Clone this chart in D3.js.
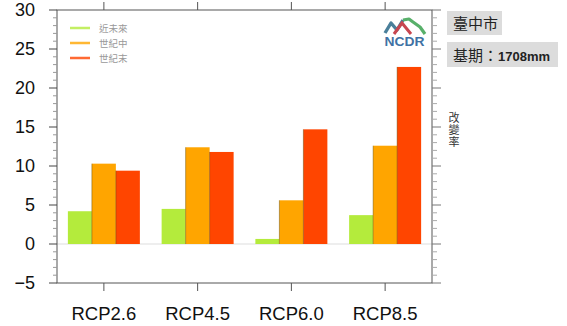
<!DOCTYPE html>
<html><head><meta charset="utf-8">
<script src="https://cdn.jsdelivr.net/npm/d3@7"></script>
<style>
body{margin:0;background:#fff;}
svg{display:block;}
</style></head>
<body>
<svg id="c" width="567" height="326"></svg>
<script>
const categories = ["RCP2.6","RCP4.5","RCP6.0","RCP8.5"];
const seriesNames = ["近未來","世紀中","世紀末"];
const nearFuture = [4.2, 4.5, 0.65, 3.7];
const midCentury = [10.3, 12.4, 5.6, 12.6];
const endCentury = [9.4, 11.8, 14.7, 22.7];
const yTicks = [-5,0,5,10,15,20,25,30];
const colors = ["#b4eb3c","#ffa500","#ff4500"];
const cityLabel = "臺中市";
const baseLabel = "基期：";
const baseValue = "1708mm";
const yTitle = "改變率";

const series = [nearFuture, midCentury, endCentury];
const svg = d3.select("#c");
const L=57, R=432, T=10, B=283;
const x = d3.scaleBand().domain(categories).range([L,R]).paddingInner(0).paddingOuter(0);
const y = d3.scaleLinear().domain([-5,30]).range([B,T]);
const bw = 24;
const sub = d3.scaleBand().domain(d3.range(3)).range([0, bw*3]);

// zero line
svg.append("line").attr("x1",L).attr("x2",R).attr("y1",y(0)).attr("y2",y(0))
  .attr("stroke","#e8e8e8").attr("stroke-width",1.5);

// bars
const g = svg.append("g");
categories.forEach((c,i)=>{
  series.forEach((s,j)=>{
    const v = s[i];
    const x0 = x(c) + x.bandwidth()/2 - bw*1.5 + sub(j);
    g.append("rect").attr("x",x0).attr("width",sub.bandwidth())
      .attr("y",y(Math.max(0,v))).attr("height",Math.abs(y(v)-y(0)))
      .attr("fill",colors[j]);
    if (j>0) g.append("line").attr("x1",x0).attr("x2",x0)
      .attr("y1",y(Math.max(0,v))).attr("y2",y(0))
      .attr("stroke","rgba(90,70,0,0.55)").attr("stroke-width",0.8);
  });
});

// frame
svg.append("rect").attr("x",L).attr("y",T).attr("width",R-L).attr("height",B-T)
  .attr("fill","none").attr("stroke","#555").attr("stroke-width",1);

// left axis
const minor = d3.range(-5,31,1);
const gl = svg.append("g");
minor.forEach(v=>{
  const major = v%5===0;
  gl.append("line").attr("x1",L).attr("x2",L-(major?8:4)).attr("y1",y(v)).attr("y2",y(v))
    .attr("stroke",major?"#444":"#999").attr("stroke-width",1);
});
const leftAxis = d3.axisLeft(y).tickValues(yTicks).tickSize(0).tickPadding(22);
svg.append("g").attr("transform",`translate(${L},0)`).call(leftAxis)
  .call(s=>s.select(".domain").remove())
  .selectAll("text").attr("font-family","Liberation Sans, Arial, sans-serif")
  .attr("font-size",18).attr("fill","#111");

// right axis ticks
minor.forEach(v=>{
  const major = v%5===0;
  svg.append("line").attr("x1",R).attr("x2",R+(major?9:5)).attr("y1",y(v)).attr("y2",y(v))
    .attr("stroke",major?"#777":"#aaa").attr("stroke-width",1);
});

// top & bottom ticks
categories.forEach(c=>{
  const cx = x(c)+x.bandwidth()/2;
  svg.append("line").attr("x1",cx).attr("x2",cx).attr("y1",T).attr("y2",T-8).attr("stroke","#555");
  svg.append("line").attr("x1",cx).attr("x2",cx).attr("y1",B).attr("y2",B+8).attr("stroke","#555");
});
const bottomAxis = d3.axisBottom(x).tickSize(0).tickPadding(24);
svg.append("g").attr("transform",`translate(0,${B})`).call(bottomAxis)
  .call(s=>s.select(".domain").remove())
  .selectAll("text").attr("font-family","Liberation Sans, Arial, sans-serif")
  .attr("font-size",18.5).attr("fill","#111");

// legend
const lg = svg.append("g");
seriesNames.forEach((n,j)=>{
  const ly = 28 + j*15;
  lg.append("line").attr("x1",70).attr("x2",90).attr("y1",ly).attr("y2",ly)
    .attr("stroke",colors[j]).attr("stroke-width",2.5).attr("stroke-opacity",0.8);
  lg.append("text").attr("x",99).attr("y",ly+3.5).text(n)
    .attr("font-family","Noto Sans CJK TC, sans-serif").attr("font-size",9.5).attr("fill","#999");
});

// logo
const logo = svg.append("g");
logo.append("path").attr("d","M385,33 L391,23 L397,30 L403,20").attr("fill","none")
  .attr("stroke","#4a7f9a").attr("stroke-width",3.4).attr("stroke-linejoin","round");
logo.append("path").attr("d","M394,34 L402,23 L411,34").attr("fill","none")
  .attr("stroke","#c8464f").attr("stroke-width",3);
logo.append("path").attr("d","M403,20 L409,19 L413,22 L420,27 L425,34").attr("fill","none")
  .attr("stroke","#58b06a").attr("stroke-width",3.2).attr("stroke-linejoin","round");
logo.append("text").attr("x",404.5).attr("y",46).attr("text-anchor","middle").text("NCDR")
  .attr("font-family","Liberation Sans, Arial, sans-serif").attr("font-weight","bold")
  .attr("font-size",12).attr("textLength",40).attr("lengthAdjust","spacingAndGlyphs")
  .attr("fill","#3f72a4");

// right info boxes
svg.append("rect").attr("x",447).attr("y",11).attr("width",55).attr("height",24).attr("fill","#dcdcdc");
svg.append("text").attr("x",453).attr("y",29).text(cityLabel)
  .attr("font-family","Noto Sans CJK TC, sans-serif").attr("font-size",15).attr("fill","#222");
svg.append("rect").attr("x",447).attr("y",42).attr("width",111).attr("height",25).attr("fill","#dcdcdc");
const t2 = svg.append("text").attr("x",453).attr("y",61)
  .attr("font-family","Noto Sans CJK TC, sans-serif").attr("font-size",15).attr("fill","#222");
t2.append("tspan").text(baseLabel);
t2.append("tspan").text(baseValue).attr("font-size",13)
  .attr("font-family","Liberation Sans, Arial, sans-serif").attr("font-weight","bold");

// y title (vertical)
svg.append("text").attr("x",454).attr("y",112).text(yTitle)
  .style("writing-mode","vertical-rl").attr("letter-spacing",1)
  .attr("font-family","Noto Sans CJK TC, sans-serif").attr("font-size",11).attr("fill","#333");
</script>
</body></html>
